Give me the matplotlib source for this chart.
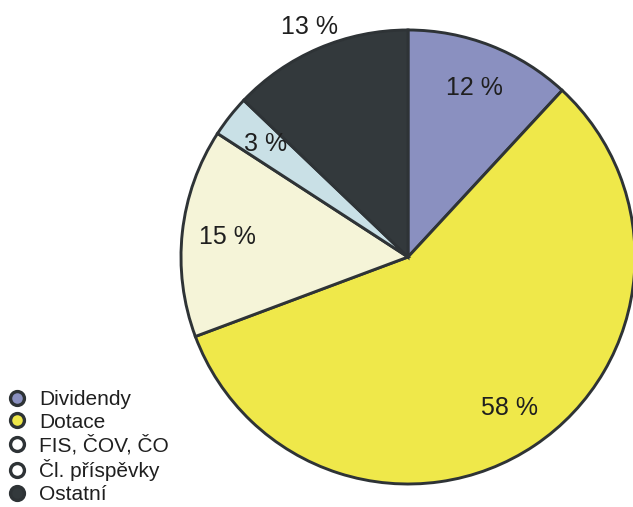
import matplotlib
matplotlib.use("Agg")
import matplotlib.pyplot as plt
from matplotlib.lines import Line2D
import numpy as np

plt.rcParams['font.family'] = ['Liberation Sans', 'DejaVu Sans']

# -------------------------------
# DATA
# -------------------------------
categories = ["Dividendy", "Dotace", "FIS, ČOV, ČO", "Čl. příspěvky", "Ostatní"]
values = [12, 58, 15, 3, 13]
labels = ["12 %", "58 %", "15 %", "3 %", "13 %"]
colors = ["#8a90c0", "#efe84a", "#f5f4d8", "#c9e0e6", "#33393c"]
legend_colors = ["#8a90c0", "#efe84a", "#ffffff", "#ffffff", "#33393c"]
label_dist = [0.8, 0.8, 0.8, 0.8, 1.1]

edge = "#2e3336"
text_col = "#1f1f1f"

W, H = 633, 507
fig = plt.figure(figsize=(W / 100, H / 100), dpi=100)

# pie centre ~ (408, 257) px, radius ~227 px
cx, cy, r = 408, 257, 227
ax = fig.add_axes([(cx - r) / W, (H - cy - r) / H, 2 * r / W, 2 * r / H])

wedges, _ = ax.pie(values, colors=colors, startangle=90, counterclock=False,
                   radius=1.0,
                   wedgeprops=dict(edgecolor=edge, linewidth=2.1))

# percentage labels at wedge mid-angles
for w, lab, d in zip(wedges, labels, label_dist):
    ang = np.deg2rad((w.theta1 + w.theta2) / 2)
    ax.text(d * np.cos(ang), d * np.sin(ang), lab, ha="center", va="center",
            fontsize=18, color=text_col)

ax.set_xlim(-1, 1)
ax.set_ylim(-1, 1)
ax.set_aspect("equal")
ax.axis("off")

# -------------------------------
# LEGEND
# -------------------------------
handles = [Line2D([], [], marker="o", linestyle="none", markersize=10,
                  markerfacecolor=c, markeredgecolor=edge, markeredgewidth=2.4)
           for c in legend_colors]
leg = fig.legend(handles, categories, loc="upper left",
                 bbox_to_anchor=(2 / W, 1 - 386 / H), frameon=False,
                 fontsize=15, labelspacing=0.17, handlelength=1.0,
                 handletextpad=0.6, borderpad=0.2, borderaxespad=0)
for t in leg.get_texts():
    t.set_color(text_col)

fig.savefig("out.png", dpi=100)
